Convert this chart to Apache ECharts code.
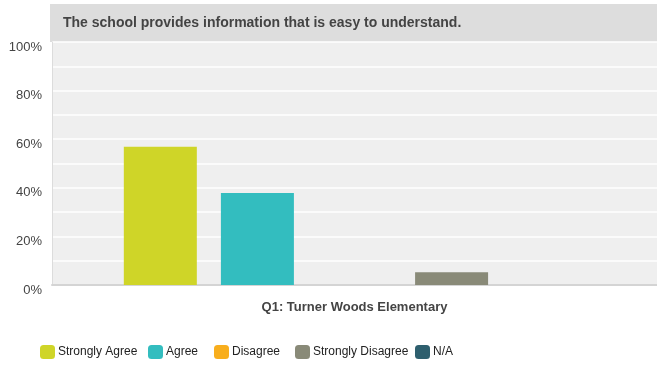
<!DOCTYPE html>
<html>
<head>
<meta charset="utf-8">
<script src="https://cdn.jsdelivr.net/npm/echarts@6/dist/echarts.min.js"></script>
<style>
  html, body { margin: 0; padding: 0; background: #fff; }
  #chart { width: 657px; height: 367px; }
</style>
</head>
<body>
<div id="chart"></div>
<script>
// data
var question = 'The school provides information that is easy to understand.'
var categories = ['Q1: Turner Woods Elementary']
var answers = ['Strongly Agree', 'Agree', 'Disagree', 'Strongly Disagree', 'N/A']
var values = [56.9, 37.9, 0, 5.2, 0]
var colors = ['#cfd528', '#33bdbf', '#f8ae1d', '#898a78', '#2e5f6e']
// left edge of each legend swatch
var legendLeft = [40, 148, 214, 295, 415]

var myChart = echarts.init(document.getElementById('chart'))

var series = answers.map(function (name, i) {
  return {
    name: name,
    type: 'bar',
    barWidth: 73,
    barGap: '33%',
    itemStyle: { color: colors[i] },
    data: [values[i]]
  }
})

var legends = answers.map(function (name, i) {
  return {
    data: [name],
    left: legendLeft[i],
    top: 345,
    padding: 0,
    itemWidth: 15,
    itemHeight: 14,
    icon: 'roundRect',
    textStyle: { fontSize: 12, color: '#222', padding: [-1, 0, 0, -2] }
  }
})

var option = {
  animation: false,
  color: colors,
  textStyle: { fontFamily: '"Liberation Sans", Arial, sans-serif' },
  graphic: [
    { type: 'rect', left: 50, top: 4, shape: { width: 607, height: 38 }, style: { fill: '#dddddd' }, z: -1 },
    { type: 'rect', left: 52, top: 42, shape: { width: 605, height: 243 }, style: { fill: '#efefef' }, z: -1 },
    { type: 'text', left: 63, top: 16, style: { text: question, font: 'bold 14px "Liberation Sans", Arial, sans-serif', fill: '#444' } }
  ],
  grid: { left: 52, right: 0, top: 42, bottom: 82, containLabel: false },
  legend: legends,
  xAxis: {
    type: 'category',
    data: categories,
    axisLine: { lineStyle: { color: '#d4d4d4', width: 2 } },
    axisTick: { show: false },
    axisLabel: { fontWeight: 'bold', fontSize: 13, color: '#444', margin: 16 }
  },
  yAxis: {
    type: 'value',
    min: 0,
    max: 100,
    interval: 10,
    axisLine: { show: true, lineStyle: { color: '#dcdcdc', width: 1 } },
    axisTick: { show: false },
    splitLine: { lineStyle: { color: '#ffffff', width: 1.5 } },
    axisLabel: {
      fontSize: 13,
      color: '#444',
      margin: 10,
      verticalAlign: 'top',
      lineHeight: 10,
      formatter: function (v) { return v % 20 === 0 ? v + '%' : '' }
    }
  },
  series: series
}

myChart.setOption(option)
</script>
</body>
</html>
